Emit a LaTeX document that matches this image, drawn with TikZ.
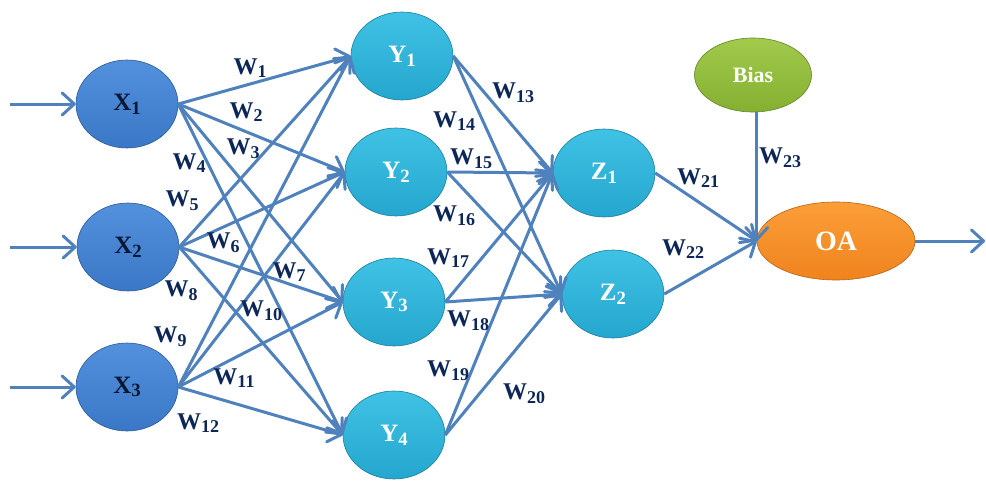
\documentclass[tikz,border=0pt]{standalone}
\usepackage{fontspec}
\setmainfont{Liberation Serif}
\usetikzlibrary{arrows.meta, shapes.geometric}
\definecolor{inlight}{HTML}{5391DD}
\definecolor{indark}{HTML}{3A77C6}
\definecolor{hidlight}{HTML}{40C2E5}
\definecolor{hiddark}{HTML}{25A6CE}
\definecolor{biaslight}{HTML}{A2CA4C}
\definecolor{biasdark}{HTML}{84B032}
\definecolor{outlight}{HTML}{FB9E38}
\definecolor{outdark}{HTML}{F0831E}
\definecolor{wire}{HTML}{4F81BD}
\definecolor{navy}{HTML}{0C2657}
\newcommand{\lowsub}[1]{\raisebox{-0.15em}{\scalebox{0.75}{#1}}}
\newcommand{\wl}[1]{W\lowsub{#1}}
\tikzset{
  neuron/.style={ellipse, inner sep=0pt, minimum width=102pt, minimum height=88pt,
    line width=0.6pt, font=\fontsize{25}{27}\selectfont\bfseries},
  inputN/.style={neuron, draw=indark!75!black, top color=inlight, bottom color=indark, text=navy!60!black},
  hiddenN/.style={neuron, draw=hiddark!75!black, top color=hidlight, bottom color=hiddark, text=white},
  biasN/.style={neuron, minimum width=117pt, minimum height=74pt, draw=biasdark!75!black,
    top color=biaslight, bottom color=biasdark, text=white, font=\fontsize{22}{24}\selectfont\bfseries},
  outN/.style={neuron, minimum width=158pt, minimum height=78pt, draw=outdark!75!black,
    top color=outlight, bottom color=outdark, text=white, font=\fontsize{28}{30}\selectfont\bfseries},
  arrow/.style={-{Straight Barb[length=12pt, width=22pt, round]}, line width=3pt, wire},
  wlab/.style={font=\fontsize{24}{26}\selectfont\bfseries, text=navy, inner sep=0pt},
}
\begin{document}
\begin{tikzpicture}[x=1pt, y=-1pt]
\useasboundingbox (0,0) rectangle (986,482);
% layers
\node[inputN] (x1) at (127,104) {X\lowsub{1}};
\node[inputN] (x2) at (128,247) {X\lowsub{2}};
\node[inputN] (x3) at (127,387) {X\lowsub{3}};
\node[hiddenN] (y1) at (402,56) {Y\lowsub{1}};
\node[hiddenN] (y2) at (396,172) {Y\lowsub{2}};
\node[hiddenN] (y3) at (394,302) {Y\lowsub{3}};
\node[hiddenN] (y4) at (394,435) {Y\lowsub{4}};
\node[hiddenN] (z1) at (604,173) {Z\lowsub{1}};
\node[hiddenN] (z2) at (613,294) {Z\lowsub{2}};
\node[biasN] (bias) at (753,75) {Bias};
\node[outN] (oa) at (836,241) {OA};
\coordinate (in1) at (10,104);
\coordinate (in2) at (10,247);
\coordinate (in3) at (10,387);
\coordinate (out) at (985,241);
% inputs and output
\draw[arrow] (in1) -- (x1.west);
\draw[arrow] (in2) -- (x2.west);
\draw[arrow] (in3) -- (x3.west);
\draw[arrow] (oa.east) -- (out);
% input -> hidden
\draw[arrow] (x1.east) -- (y1.west);
\draw[arrow] (x1.east) -- (y2.west);
\draw[arrow] (x1.east) -- (y3.west);
\draw[arrow] (x1.east) -- (y4.west);
\draw[arrow] (x2.east) -- (y1.west);
\draw[arrow] (x2.east) -- (y2.west);
\draw[arrow] (x2.east) -- (y3.west);
\draw[arrow] (x2.east) -- (y4.west);
\draw[arrow] (x3.east) -- (y1.west);
\draw[arrow] (x3.east) -- (y2.west);
\draw[arrow] (x3.east) -- (y3.west);
\draw[arrow] (x3.east) -- (y4.west);
% hidden -> second hidden
\draw[arrow] (y1.east) -- (z1.west);
\draw[arrow] (y1.east) -- (z2.west);
\draw[arrow] (y2.east) -- (z1.west);
\draw[arrow] (y2.east) -- (z2.west);
\draw[arrow] (y3.east) -- (z1.west);
\draw[arrow] (y3.east) -- (z2.west);
\draw[arrow] (y4.east) -- (z1.west);
\draw[arrow] (y4.east) -- (z2.west);
% second hidden -> output
\draw[arrow] (z1.east) -- (oa.west);
\draw[arrow] (z2.east) -- (oa.west);
\draw[arrow] (bias.south -| oa.west) -- (oa.west);
% weights
\node[wlab] (w1) at (250,68) {\wl{1}};
\node[wlab] (w2) at (246,112) {\wl{2}};
\node[wlab] (w3) at (243,149) {\wl{3}};
\node[wlab] (w4) at (189,163) {\wl{4}};
\node[wlab] (w5) at (182,201) {\wl{5}};
\node[wlab] (w6) at (223,243) {\wl{6}};
\node[wlab] (w7) at (289,272) {\wl{7}};
\node[wlab] (w8) at (181,291) {\wl{8}};
\node[wlab] (w9) at (170,337) {\wl{9}};
\node[wlab] (w10) at (261,311) {\wl{10}};
\node[wlab] (w11) at (234,378) {\wl{11}};
\node[wlab] (w12) at (198,423) {\wl{12}};
\node[wlab] (w13) at (513,93) {\wl{13}};
\node[wlab] (w14) at (454,121) {\wl{14}};
\node[wlab] (w15) at (471,159) {\wl{15}};
\node[wlab] (w16) at (454,216) {\wl{16}};
\node[wlab] (w17) at (448,258) {\wl{17}};
\node[wlab] (w18) at (468,321) {\wl{18}};
\node[wlab] (w19) at (448,371) {\wl{19}};
\node[wlab] (w20) at (524,394) {\wl{20}};
\node[wlab] (w21) at (698,178) {\wl{21}};
\node[wlab] (w22) at (683,249) {\wl{22}};
\node[wlab] (w23) at (780,158) {\wl{23}};
\end{tikzpicture}
\end{document}
